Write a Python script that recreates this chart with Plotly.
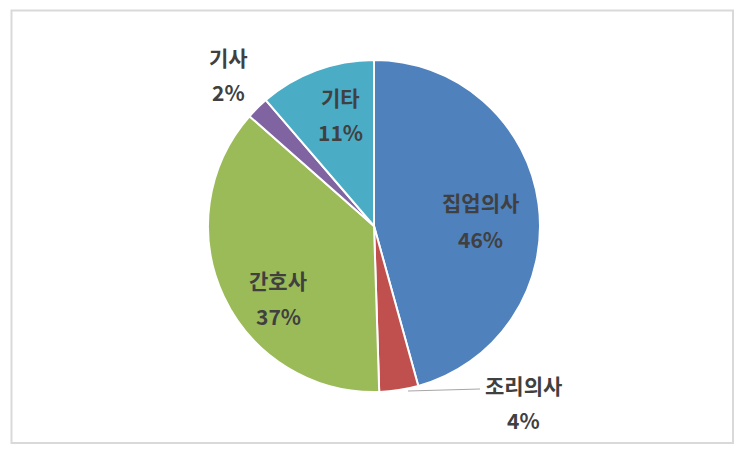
import plotly.graph_objects as go

# data
labels = ["집업의사", "조리의사", "간호사", "기사", "기타"]
values = [45.7, 3.8, 37.0, 2.2, 11.3]
colors = ["#4F81BD", "#C0504D", "#9BBB59", "#8064A2", "#4BACC6"]

OFF = 8  # page body margin
W, H = 751 - OFF, 457 - OFF
total = sum(values)
pct = [f"{v / total * 100:.0f}%" for v in values]


def px(x):
    return (x - OFF) / W


def py(y):
    return 1 - (y - OFF) / H


# label positions in pixels (label line center, percent line center)
label_pos = [(480, 202, 239), (523, 385, 420), (278, 280, 316), (228, 57, 92), (340, 97, 132)]

fig = go.Figure(go.Pie(
    labels=labels, values=values, sort=False, direction="clockwise", rotation=0,
    marker=dict(colors=colors, line=dict(color="white", width=2)),
    textinfo="none", hoverinfo="label+percent", showlegend=False,
    domain=dict(x=[px(208), px(540)], y=[py(392), py(60)]),
))

font = dict(family="Noto Sans CJK KR, Noto Sans, sans-serif", size=21, color="#404040", weight="bold")
ann = []
for lab, p, (x, y1, y2) in zip(labels, pct, label_pos):
    ann.append(dict(text=lab, x=px(x), y=py(y1), xref="paper", yref="paper",
                    showarrow=False, font=font, xanchor="center", yanchor="middle"))
    ann.append(dict(text=p, x=px(x), y=py(y2), xref="paper", yref="paper",
                    showarrow=False, font=font, xanchor="center", yanchor="middle"))

shapes = [
    dict(type="rect", xref="paper", yref="paper", x0=px(11.5), x1=px(733),
         y0=py(443), y1=py(10.5), line=dict(color="#D9D9D9", width=2)),
    dict(type="line", xref="paper", yref="paper", x0=px(408), x1=px(480),
         y0=py(391), y1=py(389), line=dict(color="#A6A6A6", width=1)),
]

fig.update_layout(width=W, height=H, margin=dict(l=0, r=0, t=0, b=0),
                  paper_bgcolor="white", plot_bgcolor="white",
                  annotations=ann, shapes=shapes)
fig.write_html("out.html")
